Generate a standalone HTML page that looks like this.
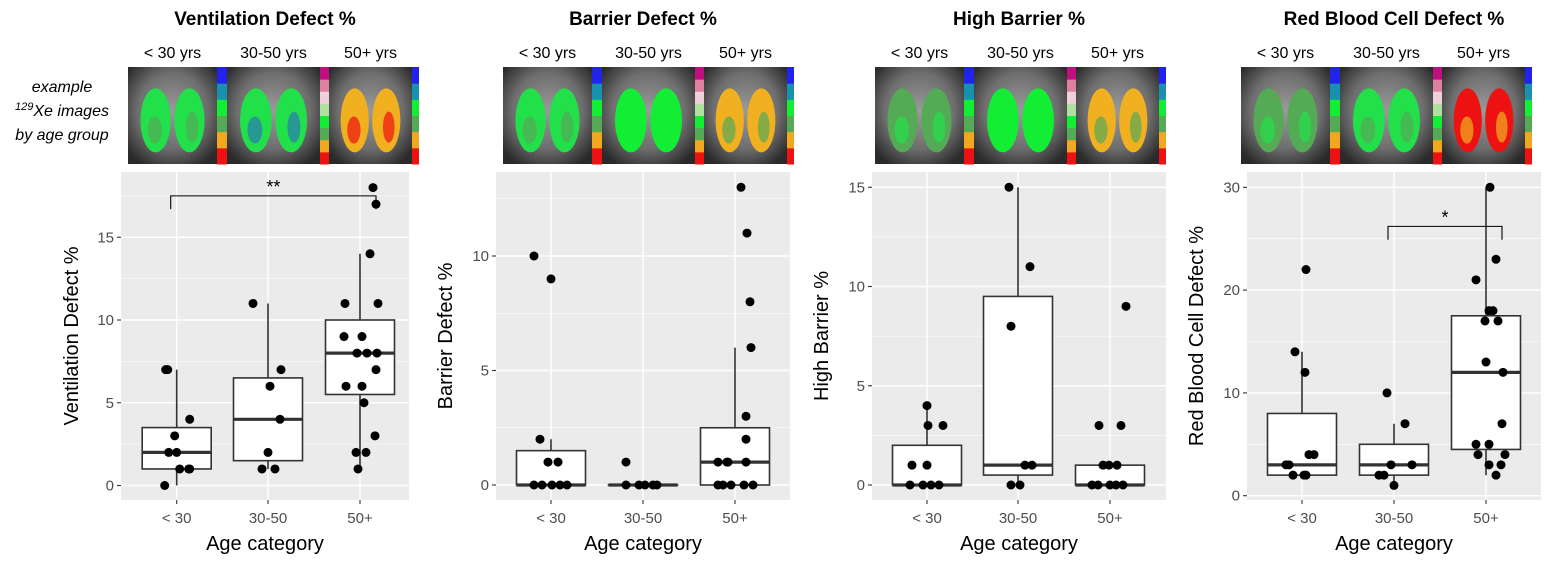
<!DOCTYPE html>
<html><head><meta charset="utf-8">
<style>
html,body{margin:0;padding:0;background:#fff;}
svg{display:block;font-family:"Liberation Sans",sans-serif;}
</style></head>
<body>
<svg id="chart" width="1548" height="562" viewBox="0 0 1548 562" xmlns="http://www.w3.org/2000/svg">
<defs>
<radialGradient id="mri" cx="50%" cy="45%" r="65%">
<stop offset="0" stop-color="#9a9a9a"/><stop offset="0.6" stop-color="#6e6e6e"/><stop offset="1" stop-color="#2a2a2a"/>
</radialGradient>
</defs>
<text x="62" y="92" text-anchor="middle" font-size="16" font-style="italic">example</text>
<text x="62" y="116" text-anchor="middle" font-size="16" font-style="italic"><tspan font-size="11" dy="-6">129</tspan><tspan dy="6">Xe images</tspan></text>
<text x="62" y="140" text-anchor="middle" font-size="16" font-style="italic">by age group</text>
</svg>
<script>
const cats=["< 30","30-50","50+"];
// box stats: [whiskerLow, q1, median, q3, whiskerHigh]
const vdBox=[[0,1,2,3.5,7],[1,1.5,4,6.5,11],[1,5.5,8,10,14]];
const vdVals=[[7,7,4,3,2,2,1,1,1,0],[11,7,6,4,2,1,1],[18,17,14,11,11,9,9,8,8,8,7,6,6,5,3,2,2,1]];
const vdJit=[[-11,-9,13,-2,-8,0,3,12,13,-12],[-15,13,2,12,0,-6,7],[13,16,10,-15,18,-16,2,-3,7,17,16,-14,2,4,15,-4,6,-2]];
const vdTicks=[0,5,10,15];
const bdBox=[[0,0,0,1.5,2],[0,0,0,0,0],[0,0,1,2.5,6]];
const bdVals=[[10,9,2,1,1,0,0,0,0,0],[1,0,0,0,0,0],[13,11,8,6,3,2,1,1,1,1,0,0,0,0,0]];
const bdJit=[[-17,0,-11,-3,7,-17,-9,1,9,16],[-17,-17,-4,2,10,14],[6,12,15,16,11,11,-17,-8,-7,11,-17,-12,-4,9,18]];
const bdTicks=[0,5,10];
const hbBox=[[0,0,0,2,4],[0,0.5,1,9.5,15],[0,0,0,1,1]];
const hbVals=[[4,3,3,1,1,0,0,0,0],[15,11,8,1,1,0,0],[9,3,3,1,1,1,0,0,0,0,0]];
const hbJit=[[0,1,16,-15,0,-17,-4,4,12],[-9,12,-7,7,14,-7,2],[16,-11,11,-7,-1,7,-18,-12,0,6,13]];
const hbTicks=[0,5,10,15];
const rbBox=[[2,2,3,8,14],[1,2,3,5,7],[2,4.5,12,17.5,30]];
const rbVals=[[22,14,12,4,4,3,3,2,2,2],[10,7,3,3,2,2,1],[30,23,21,18,18,17,17,13,12,7,5,5,4,4,3,3,2]];
const rbJit=[[4,-7,3,7,12,-16,-13,-9,2,4],[-7,11,-3,18,-15,-10,0],[4,10,-10,3,7,-1,12,0,17,16,-10,3,-8,19,3,15,10]];
const rbTicks=[0,10,20,30];

const NS="http://www.w3.org/2000/svg";
const svg=document.getElementById('chart');
function mk(tag,attrs,parent,text){const e=document.createElementNS(NS,tag);for(const k in attrs)e.setAttribute(k,attrs[k]);if(text!==undefined)e.textContent=text;(parent||svg).appendChild(e);return e;}

const panels=[
 {key:'ventilation',title:'Ventilation Defect %',ytitle:'Ventilation Defect %',box:vdBox,vals:vdVals,jit:vdJit,ticks:vdTicks,x0:121,x1:409,y0:485.5,ppu:16.55,yt:336,ytx:78,img:128,cx:[176.7,268,360],lung:[['#22e04a','#55aa55'],['#22e04a','#2a7ab0'],['#f0b020','#ee1111']],bracket:{a:0,b:2,y:17.5,drop:16.7,label:'**'}},
 {key:'barrier',title:'Barrier Defect %',ytitle:'Barrier Defect %',box:bdBox,vals:bdVals,jit:bdJit,ticks:bdTicks,x0:496,x1:790,y0:485,ppu:22.9,yt:336,ytx:452,img:503,cx:[551,643,735],lung:[['#22e04a','#55aa55'],['#11ee33','#11ee33'],['#f0b020','#55aa55']]},
 {key:'high-barrier',title:'High Barrier %',ytitle:'High Barrier %',box:hbBox,vals:hbVals,jit:hbJit,ticks:hbTicks,x0:872,x1:1166,y0:485,ppu:19.85,yt:336,ytx:828,img:875,cx:[927,1018,1110],lung:[['#55aa55','#22e04a'],['#11ee33','#11ee33'],['#f0b020','#55aa55']]},
 {key:'rbc',title:'Red Blood Cell Defect %',ytitle:'Red Blood Cell Defect %',box:rbBox,vals:rbVals,jit:rbJit,ticks:rbTicks,x0:1247,x1:1541,y0:495.7,ppu:10.28,yt:336,ytx:1203,img:1241,cx:[1302,1394,1486],lung:[['#55aa55','#22e04a'],['#22e04a','#55aa55'],['#ee1111','#f0b020']],bracket:{a:1,b:2,y:26.2,drop:24.9,label:'*'}}
];
const cb6=['#ee1111','#f0a820','#55aa55','#11ee33','#1890b0','#2222ee'];
const cb8=['#ee1111','#f0a820','#55aa55','#11ee33','#b0e0a0','#f0d0d8','#e080a0','#c01080'];
const imgW=[89,93,83], cbW=[10,9,7];

panels.forEach(p=>{
  const g=mk('g',{});
  
  
  const cxm=(p.x0+p.x1)/2;
  const t=mk('text',{x:cxm,y:25,'text-anchor':'middle','font-size':19,'font-weight':'bold'},g,p.title);
  
  
  let x=p.img;
  const labels=['< 30 yrs','30-50 yrs','50+ yrs'];
  for(let i=0;i<3;i++){
    const w=imgW[i];
    const lab=mk('text',{x:x+w/2,y:58,'text-anchor':'middle','font-size':16},g,labels[i]);
    
    
    const im=mk('g',{},g);
    
    
    mk('rect',{x:x,y:67,width:w,height:97,fill:'url(#mri)'},im);
    const c=p.lung[i];
    mk('ellipse',{cx:x+w*0.31,cy:67+97*0.55,rx:w*0.17,ry:97*0.33,fill:c[0]},im);
    mk('ellipse',{cx:x+w*0.69,cy:67+97*0.55,rx:w*0.17,ry:97*0.33,fill:c[0]},im);
    mk('ellipse',{cx:x+w*0.30,cy:67+97*0.65,rx:w*0.08,ry:97*0.14,fill:c[1],opacity:0.7},im);
    mk('ellipse',{cx:x+w*0.72,cy:67+97*0.62,rx:w*0.07,ry:97*0.16,fill:c[1],opacity:0.7},im);
    x+=w;
    const pal=i===1?cb8:cb6;
    const sh=97/pal.length;
    pal.forEach((col,k)=>{mk('rect',{x:x,y:67+97-(k+1)*sh,width:cbW[i],height:sh+0.5,fill:col},im);});
    x+=cbW[i];
  }
  const bg=mk('rect',{x:p.x0,y:172,width:p.x1-p.x0,height:328,fill:'#ebebeb'},g);
  
  
  const Y=v=>p.y0-v*p.ppu;
  const step=p.ticks[1]-p.ticks[0];
  for(let v=p.ticks[0]-step/2;Y(v)>=172;v+=step/2){
    if(Y(v)>500) continue;
    const major=Math.abs((v/step)-Math.round(v/step))<1e-6;
    mk('line',{x1:p.x0,x2:p.x1,y1:Y(v),y2:Y(v),stroke:'#fff','stroke-width':major?1.4:0.6},g);
  }
  p.cx.forEach(c=>{mk('line',{x1:c,x2:c,y1:172,y2:500,stroke:'#fff','stroke-width':1.4},g);});
  p.ticks.forEach(v=>{
    mk('line',{x1:p.x0-4,x2:p.x0,y1:Y(v),y2:Y(v),stroke:'#333','stroke-width':1.1},g);
    const tl=mk('text',{x:p.x0-7,y:Y(v)+5,'text-anchor':'end','font-size':15,fill:'#4d4d4d'},g,String(v));
    
    
  });
  cats.forEach((c,i)=>{
    mk('line',{x1:p.cx[i],x2:p.cx[i],y1:500,y2:504,stroke:'#333','stroke-width':1.1},g);
    const tl=mk('text',{x:p.cx[i],y:523,'text-anchor':'middle','font-size':15,fill:'#4d4d4d'},g,c);
    
    
  });
  const xt=mk('text',{x:cxm,y:550,'text-anchor':'middle','font-size':20},g,'Age category');
  
  
  const yt=mk('text',{x:p.ytx,y:p.yt,'text-anchor':'middle','font-size':20,transform:`rotate(-90 ${p.ytx} ${p.yt})`},g,p.ytitle);
  
  
  p.box.forEach((b,i)=>{
    const c=p.cx[i],hw=34.5;
    const bx=mk('g',{},g);
    
    
    mk('line',{x1:c,x2:c,y1:Y(b[0]),y2:Y(b[4]),stroke:'#333','stroke-width':1.6},bx);
    mk('rect',{x:c-hw,y:Y(b[3]),width:2*hw,height:Math.max(Y(b[1])-Y(b[3]),0.01),fill:'#fff',stroke:'#333','stroke-width':1.6},bx);
    mk('line',{x1:c-hw,x2:c+hw,y1:Y(b[2]),y2:Y(b[2]),stroke:'#333','stroke-width':3.2},bx);
  });
  p.vals.forEach((arr,i)=>{
    arr.forEach((v,k)=>{
      const pt=mk('circle',{cx:p.cx[i]+p.jit[i][k],cy:Y(v),r:4.5,fill:'#000'},g);
      
      
    });
  });
  if(p.bracket){
    const br=p.bracket;
    const xa=p.cx[br.a]-6,xb=p.cx[br.b]+16;
    const bk=mk('path',{d:`M${xa} ${Y(br.drop)} L${xa} ${Y(br.y)} L${xb} ${Y(br.y)} L${xb} ${Y(br.drop)}`,fill:'none',stroke:'#000','stroke-width':1.1},g);
    
    
    const st=mk('text',{x:(xa+xb)/2,y:Y(br.y)-3,'text-anchor':'middle','font-size':18},g,br.label);
    
    
  }
});
</script>
</body></html>
